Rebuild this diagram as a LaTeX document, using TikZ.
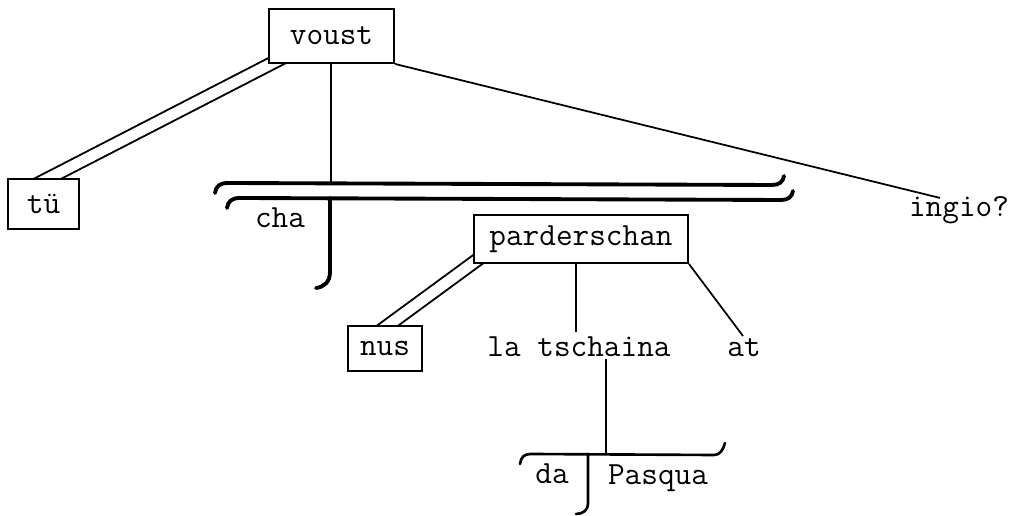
\documentclass[tikz,border=0pt]{standalone}
\usetikzlibrary{calc}
\usetikzlibrary{backgrounds}

\begin{document}
\begin{tikzpicture}[x=0.02cm, y=-0.02cm,
    BOX/.style={rectangle, draw=black, fill=white, line width=1.1pt, inner sep=0pt, font=\fontsize{18.4}{22}\selectfont\ttfamily},
    WORD/.style={anchor=base, inner sep=1pt, font=\fontsize{18.4}{22}\selectfont\ttfamily},
    LINK/.style={line width=1pt},
    DBL/.style={draw=black, line width=1.1pt, double=white, double distance=0.21cm},
    TRANS/.style={line width=2.2pt, line cap=round},
    ]
        \useasboundingbox (0,0) rectangle (1017,516);

        \node[BOX, minimum width=2.5cm, minimum height=1.08cm] (voust) at (331.5,36) {voust};
        \node[BOX, minimum width=1.42cm, minimum height=1cm] (tu) at (43.5,204) {tü};
        \node[WORD] (ingio) at (959,217) {ingio?};
        \node[WORD] (cha) at (280,228) {cha};
        \node[BOX, minimum width=4.28cm, minimum height=0.96cm] (parderschan) at (581,239) {parderschan};
        \node[BOX, minimum width=1.48cm, minimum height=0.9cm] (nus) at (385,348.5) {nus};
        \node[WORD] (tschaina) at (579,357) {la tschaina};
        \node[WORD] (at) at (744,357) {at};
        \node[WORD] (da) at (552,483) {da};
        \node[WORD] (Pasqua) at (658,484) {Pasqua};

        \coordinate (T1) at (331,183);
        \coordinate (T2) at (606,454);

        \begin{scope}[on background layer]
            \draw[DBL] ($(voust.south west)+(20,-9)$) -- ($(tu.north)+(-12,9)$);
            \draw[DBL] ($(parderschan.south west)+(15,-12)$) -- ($(nus.north)+(-13,12)$);
        \end{scope}

        \draw[LINK] (T1 |- voust.south) -- (T1);
        \draw[LINK] (voust.south east) -- ($(ingio.north)+(-19,3)$);
        \draw[LINK] ($(parderschan.south)+(-5,0)$) -- ($(tschaina.north)+(-3,-3)$);
        \draw[LINK] (parderschan.south east) -- ($(at.north)+(-1,-1)$);
        \draw[LINK] (T2 |- tschaina.south) -- (T2);

        \draw[TRANS] (215,193) .. controls (216,186) and (220,183) .. (228,183) -- (772,185) .. controls (779,185) and (783,182) .. (784,176);
        \draw[TRANS] (227,208) .. controls (228,201) and (232,198) .. (240,198) -- (781,200) .. controls (788,200) and (792,197) .. (793,191);
        \draw[TRANS] (330,198) -- (330,272) .. controls (330,282) and (324,287) .. (316,288);

        \draw[TRANS, line width=1.5pt] (520,464) .. controls (521,457) and (524,454) .. (531,454) -- (714,455) .. controls (720,455) and (723,450) .. (725,443);
        \draw[TRANS, line width=1.5pt] (588,454) -- (588,504) .. controls (588,510) and (583,514) .. (576,514);
    \end{tikzpicture}
\end{document}
